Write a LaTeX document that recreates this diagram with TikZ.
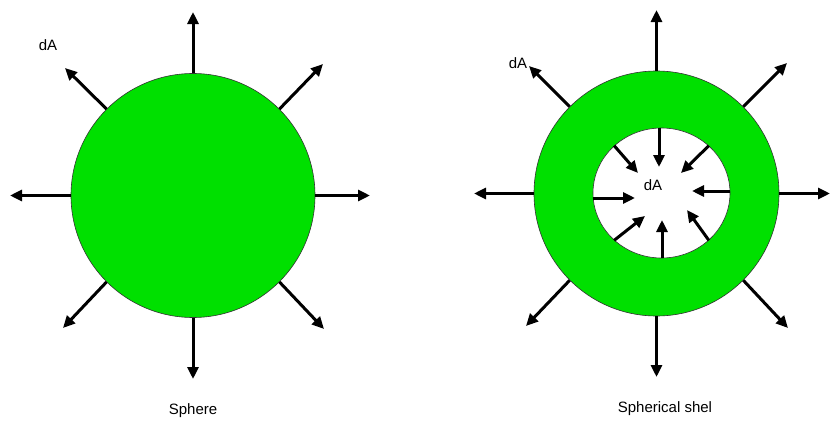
\documentclass[tikz,border=0pt]{standalone}
\usepackage{fontspec}
\setmainfont{Liberation Sans}
\usetikzlibrary{arrows.meta,shapes.geometric}
\definecolor{ballgreen}{RGB}{0,224,0}
\begin{document}
\begin{tikzpicture}[x=1pt,y=-1pt,
  ball/.style={circle,draw=black!80,line width=0.6pt,fill=ballgreen,inner sep=0pt},
  hole/.style={ellipse,draw=black!80,line width=0.6pt,fill=white,inner sep=0pt},
  vec/.style={line width=3pt,-{Triangle[length=12pt,width=11pt]}},
  lbl/.style={font=\fontsize{15}{18}\selectfont,inner sep=0pt}]
\useasboundingbox[fill=white] (0,0) rectangle (831,423);
% ---- sphere ----
\node[ball,minimum size=244pt] (s1) at (193,195.5) {};
\coordinate (a1) at (193,12);
\coordinate (a2) at (323,64);
\coordinate (a3) at (370,195.5);
\coordinate (a4) at (324,329);
\coordinate (a5) at (193,379);
\coordinate (a6) at (63,328);
\coordinate (a7) at (10,195.5);
\coordinate (a8) at (65,68);
\draw[vec] (s1.90) -- (a1);
\draw[vec] (s1.45) -- (a2);
\draw[vec] (s1.0) -- (a3);
\draw[vec] (s1.-45) -- (a4);
\draw[vec] (s1.-90) -- (a5);
\draw[vec] (s1.-135) -- (a6);
\draw[vec] (s1.180) -- (a7);
\draw[vec] (s1.135) -- (a8);
\node[lbl] (dA1) at (48,45) {dA};
\node[lbl] (t1) at (193,411) {Sphere};
% ---- spherical shell ----
\node[ball,minimum size=245pt] (s2) at (656.5,193.5) {};
\node[hole,minimum width=137pt,minimum height=130pt] (h2) at (661.5,193) {};
\coordinate (b1) at (656.5,10);
\coordinate (b2) at (787,63);
\coordinate (b3) at (830,193.5);
\coordinate (b4) at (788,328);
\coordinate (b5) at (656.5,377);
\coordinate (b6) at (526,326);
\coordinate (b7) at (474,193.5);
\coordinate (b8) at (529,66);
\draw[vec] (s2.90) -- (b1);
\draw[vec] (s2.45) -- (b2);
\draw[vec] (s2.0) -- (b3);
\draw[vec] (s2.-45) -- (b4);
\draw[vec] (s2.-90) -- (b5);
\draw[vec] (s2.-135) -- (b6);
\draw[vec] (s2.180) -- (b7);
\draw[vec] (s2.135) -- (b8);
\node[lbl] (dA2) at (518,63) {dA};
% inner arrows
\coordinate (c1) at (659,167);
\coordinate (c2) at (681,173);
\coordinate (c3) at (692,191);
\coordinate (c4) at (687,210);
\coordinate (c5) at (662,220);
\coordinate (c6) at (645,216);
\coordinate (c7) at (635,198);
\coordinate (c8) at (638,173);
\draw[vec] (c1 |- h2.north) -- (c1);
\draw[vec] (h2.45) -- (c2);
\draw[vec] (h2.east |- c3) -- (c3);
\draw[vec] (h2.-45) -- (c4);
\draw[vec] (c5 |- h2.south) -- (c5);
\draw[vec] (h2.-135) -- (c6);
\draw[vec] (h2.west |- c7) -- (c7);
\draw[vec] (h2.135) -- (c8);
\node[lbl] (dA3) at (653,185) {dA};
\node[lbl] (t2) at (665,409) {Spherical shel};
\end{tikzpicture}
\end{document}
